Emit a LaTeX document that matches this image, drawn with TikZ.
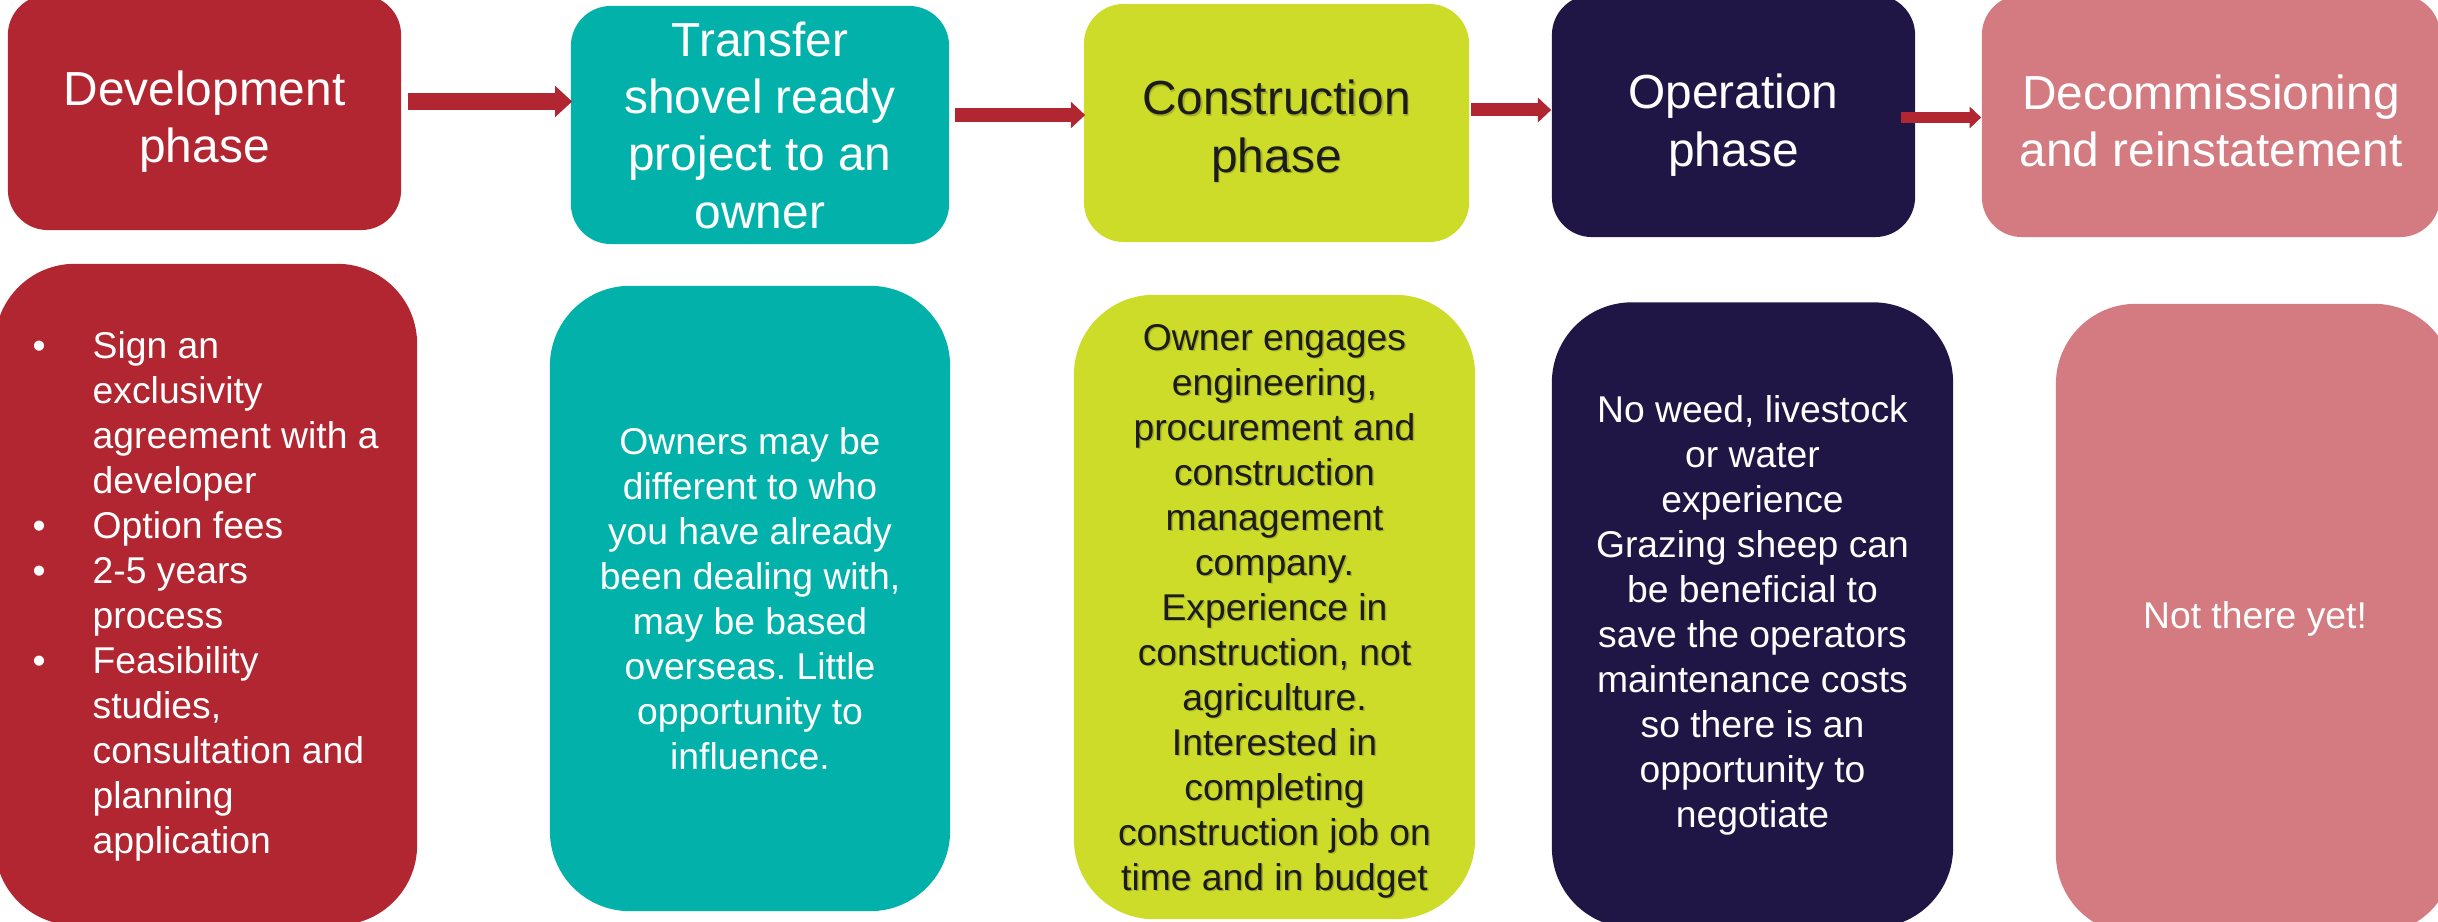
\documentclass[tikz,border=0pt]{standalone}
\usepackage{fontspec}
\setmainfont{Liberation Sans}
\usetikzlibrary{arrows.meta}
\frenchspacing

\definecolor{devred}{RGB}{177,38,48}
\definecolor{phteal}{RGB}{2,178,170}
\definecolor{phlime}{RGB}{205,220,40}
\definecolor{phnavy}{RGB}{31,22,70}
\definecolor{phpink}{RGB}{211,123,128}
\definecolor{condark}{RGB}{28,28,28}

% bullet and hanging indent for the list
\newcommand{\listdot}{\makebox[0.6cm][l]{\textbullet}}
\newcommand{\listpad}{\hspace*{0.6cm}}

\begin{document}
\begin{tikzpicture}[x=0.01cm, y=-0.01cm,
	phase/.style={rounded corners=0.4cm, inner sep=0pt},
	title/.style={text=white, align=center, inner sep=0pt, font=\fontsize{13.6}{16.3}\selectfont},
	info/.style={rounded corners=0.8cm, text=white, align=center, inner sep=0pt, font=\fontsize{10.6}{12.8}\selectfont},
	shade/.style={text=condark, opacity=0.22},
	flow/.style={devred, -{Triangle[width=0.04cm 1.55, length=0.01cm 0.95]}}]
		\useasboundingbox (0,0) rectangle (2438,922);
		\clip (0,0) rectangle (2438,922);
		
		%phases
		\node[phase, fill=devred, minimum width=3.93cm, minimum height=2.35cm] (dev) at (204.5,112.5) {};
		\node[phase, fill=phteal, minimum width=3.78cm, minimum height=2.38cm] (shovel) at (760,125) {};
		\node[phase, fill=phlime, minimum width=3.85cm, minimum height=2.38cm] (build) at (1276.5,123) {};
		\node[phase, fill=phnavy, minimum width=3.63cm, minimum height=2.42cm] (operate) at (1733.5,116) {};
		\node[phase, fill=phpink, minimum width=4.58cm, minimum height=2.42cm] (decom) at (2211,116) {};
		
		\node[title] (devtitle) at (204.5,121.5) {Development\\phase};
		\node[title] (shoveltitle) at (760,125) {Transfer\\shovel ready\\project to an\\owner};
		\node[title, shade] (buildshade) at (1278,132.5) {Construction\\phase};
		\node[title, text=condark] (buildtitle) at (1276.5,131) {Construction\\phase};
		\node[title] (operatetitle) at (1733.5,125) {Operation\\phase};
		\node[title] (decomtitle) at (2211,121) {Decommissioning\\and reinstatement};
		
		\foreach \a/\b/\y/\w/\s/\e in {dev/shovel/101.5/0.17/0.06/-0.02, shovel/build/115/0.14/0.05/-0.02, build/operate/110/0.13/0.01/0, operate/decom/117.5/0.11/-0.15/0}{
			\draw[flow, line width=\w cm, shorten <=\s cm, shorten >=\e cm] (\a.east |- 0,\y) -- (\b.west |- 0,\y);
		}
		
		%details under each phase
		\node[info, fill=devred, minimum width=4.22cm, minimum height=6.61cm] (devinfo) at (206,594.5) {};
		\node[info, align=left, anchor=west] (devlist) at (32,596) {\listdot Sign an\\ \listpad exclusivity\\ \listpad agreement with a\\ \listpad developer\\ \listdot Option fees\\ \listdot 2-5 years\\ \listpad process\\ \listdot Feasibility\\ \listpad studies,\\ \listpad consultation and\\ \listpad planning\\ \listpad application};
		\node[info, fill=phteal, minimum width=4cm, minimum height=6.25cm] (shovelinfo) at (750,598.5) {Owners may be\\different to who\\you have already\\been dealing with,\\may be based\\overseas. Little\\opportunity to\\influence.};
		\node[info, fill=phlime, minimum width=4.01cm, minimum height=6.24cm] (buildinfo) at (1274.5,607) {};
		\node[info, shade] (buildshade2) at (1276,612.5) {Owner engages\\engineering,\\procurement and\\construction\\management\\company.\\Experience in\\construction, not\\agriculture.\\Interested in\\completing\\construction job on\\time and in budget};
		\node[info, text=condark] (buildtext) at (1274.5,611) {Owner engages\\engineering,\\procurement and\\construction\\management\\company.\\Experience in\\construction, not\\agriculture.\\Interested in\\completing\\construction job on\\time and in budget};
		\node[info, fill=phnavy, minimum width=4.01cm, minimum height=6.25cm] (operateinfo) at (1752.5,615) {No weed, livestock\\or water\\experience\\Grazing sheep can\\be beneficial to\\save the operators\\maintenance costs\\so there is an\\opportunity to\\negotiate};
		\node[info, fill=phpink, minimum width=3.98cm, minimum height=6.3cm] (decominfo) at (2255,619) {Not there yet!};
\end{tikzpicture}
\end{document}
